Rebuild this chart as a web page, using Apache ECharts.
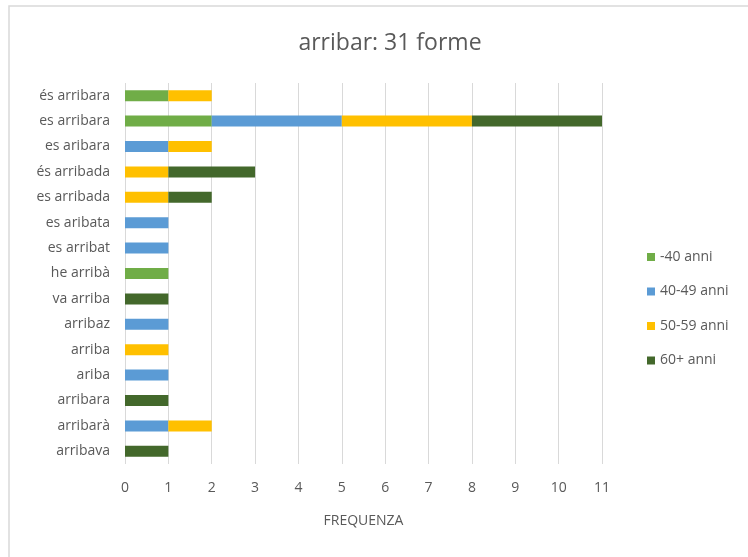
<!DOCTYPE html>
<html>
<head>
<meta charset="utf-8">
<script src="https://cdn.jsdelivr.net/npm/echarts@6/dist/echarts.min.js"></script>
<style>
  html, body { margin: 0; padding: 0; background: #fff; }
  #chart { width: 748px; height: 557px; }
</style>
</head>
<body>
<div id="chart"></div>
<script>
// categories, top to bottom
const forme = [
  'és arribara', 'es arribara', 'es aribara', 'és arribada', 'es arribada',
  'es aribata', 'es arribat', 'he arribà', 'va arriba', 'arribaz',
  'arriba', 'ariba', 'arribara', 'arribarà', 'arribava'
];
const under40 = [1, 2, 0, 0, 0, 0, 0, 1, 0, 0, 0, 0, 0, 0, 0];
const age40to49 = [0, 3, 1, 0, 0, 1, 1, 0, 0, 1, 0, 1, 0, 1, 0];
const age50to59 = [1, 3, 1, 1, 1, 0, 0, 0, 0, 0, 1, 0, 0, 1, 0];
const over60 = [0, 3, 0, 2, 1, 0, 0, 0, 1, 0, 0, 0, 1, 0, 1];

const fontFam = '"Open Sans", "Noto Sans", sans-serif';

function mkSeries(name, data, color) {
  return {
    name: name,
    type: 'bar',
    stack: 'tot',
    barWidth: 11,
    data: data.map(v => (v === 0 ? null : v)),
    itemStyle: { color: color }
  };
}

const myChart = echarts.init(document.getElementById('chart'));
const option = {
  animation: false,
  backgroundColor: '#fff',
  graphic: [{
    type: 'rect',
    shape: { x: 9, y: 6, width: 800, height: 600 },
    style: { fill: 'none', stroke: '#d9d9d9', lineWidth: 1.5 },
    silent: true
  }],
  title: {
    text: 'arribar: 31 forme',
    left: 385,
    textAlign: 'center',
    top: 27,
    textStyle: { color: '#595959', fontSize: 23, fontWeight: 'normal', fontFamily: fontFam }
  },
  legend: {
    orient: 'vertical',
    left: 642,
    top: 245,
    itemWidth: 8,
    itemHeight: 8,
    itemGap: 20.5,
    icon: 'rect',
    textStyle: { color: '#595959', fontSize: 14, fontFamily: fontFam }
  },
  grid: { left: 125, right: 146, top: 83, bottom: 93 },
  xAxis: {
    type: 'value',
    min: 0,
    max: 11,
    interval: 1,
    name: 'FREQUENZA',
    nameLocation: 'middle',
    nameGap: 50,
    nameTextStyle: { color: '#595959', fontSize: 14, fontFamily: fontFam },
    axisLine: { show: false },
    axisTick: { show: false },
    axisLabel: { color: '#595959', fontSize: 14, margin: 17, fontFamily: fontFam },
    splitLine: { lineStyle: { color: '#d9d9d9', width: 1 } }
  },
  yAxis: {
    type: 'category',
    data: forme,
    inverse: true,
    axisLine: { show: false },
    axisTick: { show: false },
    axisLabel: { color: '#595959', fontSize: 14, margin: 15, fontFamily: fontFam }
  },
  series: [
    mkSeries('-40 anni', under40, '#70ad47'),
    mkSeries('40-49 anni', age40to49, '#5b9bd5'),
    mkSeries('50-59 anni', age50to59, '#ffc000'),
    mkSeries('60+ anni', over60, '#43682b')
  ]
};
myChart.setOption(option);
</script>
</body>
</html>
